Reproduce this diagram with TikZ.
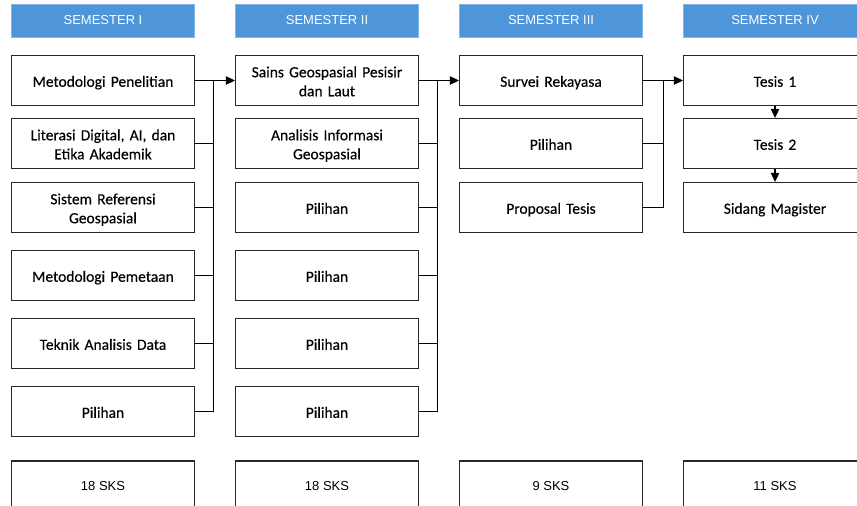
\documentclass[tikz,border=0pt]{standalone}
\usepackage{fontspec}
\setmainfont{Carlito}[RawFeature={embolden=0.35}]
\newfontfamily\labelfont{Liberation Sans}
\usetikzlibrary{arrows.meta}
\definecolor{hdblue}{RGB}{78,149,217}
\definecolor{edge}{RGB}{40,40,40}
\tikzset{
  course/.style={draw=edge, line width=1.3pt, minimum width=183pt, minimum height=50pt,
    inner sep=0pt, align=center, text width=176pt,
    execute at begin node={\noindent\rule{0pt}{16pt}},
    execute at end node={\rule[-3.5pt]{0pt}{0pt}},
    font=\fontsize{15.5}{19}\selectfont},
  header/.style={fill=hdblue, draw=hdblue!70!white, line width=0.6pt, minimum width=183pt,
    minimum height=33pt, inner sep=0pt, text=white, font=\labelfont\fontsize{13}{15}\selectfont},
  credit/.style={draw=edge, line width=1.3pt, minimum width=183pt, minimum height=50pt,
    inner sep=0pt, font=\labelfont\fontsize{13}{15}\selectfont},
  link/.style={draw=black, line width=1.3pt},
  flow/.style={link, -{Triangle[length=9pt,width=8.5pt]}},
}
\begin{document}
\begin{tikzpicture}[x=1pt,y=-1pt]
\useasboundingbox (0,0) rectangle (857,506);
\clip (0,0) rectangle (857,506);

% semester headers
\node[header] (h1) at (103,20.5) {SEMESTER I};
\node[header] (h2) at (327,20.5) {SEMESTER II};
\node[header] (h3) at (551,20.5) {SEMESTER III};
\node[header] (h4) at (775,20.5) {SEMESTER IV};

% semester I
\node[course] (a1) at (103,80.5) {Metodologi Penelitian};
\node[course] (a2) at (103,143.5) {Literasi Digital, AI, dan\\Etika Akademik};
\node[course] (a3) at (103,207.5) {Sistem Referensi\\Geospasial};
\node[course] (a4) at (103,275.5) {Metodologi Pemetaan};
\node[course] (a5) at (103,343.5) {Teknik Analisis Data};
\node[course] (a6) at (103,411.5) {Pilihan};

% semester II
\node[course] (b1) at (327,80.5) {Sains Geospasial Pesisir\\dan Laut};
\node[course] (b2) at (327,143.5) {Analisis Informasi\\Geospasial};
\node[course] (b3) at (327,207.5) {Pilihan};
\node[course] (b4) at (327,275.5) {Pilihan};
\node[course] (b5) at (327,343.5) {Pilihan};
\node[course] (b6) at (327,411.5) {Pilihan};

% semester III
\node[course] (c1) at (551,80.5) {Survei Rekayasa};
\node[course] (c2) at (551,143.5) {Pilihan};
\node[course] (c3) at (551,207.5) {Proposal Tesis};

% semester IV
\node[course] (d1) at (775,80.5) {Tesis 1};
\node[course] (d2) at (775,143.5) {Tesis 2};
\node[course] (d3) at (775,207.5) {Sidang Magister};

% credit totals
\node[credit] (s1) at (103,486) {18 SKS};
\node[credit] (s2) at (327,486) {18 SKS};
\node[credit] (s3) at (551,486) {9 SKS};
\node[credit] (s4) at (775,486) {11 SKS};

% junction points of the collecting lines
\coordinate (j1) at (213.5,80.5);
\coordinate (j2) at (437.5,80.5);
\coordinate (j3) at (663.5,80.5);

% semester I -> II
\draw[link] (a6.east) -| (j1);
\foreach \n in {a2,a3,a4,a5} \draw[link] (\n.east) -- (\n.east -| j1);
\draw[flow] (a1.east) -- (b1.west);

% semester II -> III
\draw[link] (b6.east) -| (j2);
\foreach \n in {b2,b3,b4,b5} \draw[link] (\n.east) -- (\n.east -| j2);
\draw[flow] (b1.east) -- (c1.west);

% semester III -> IV
\draw[link] (c3.east) -| (j3);
\draw[link] (c2.east) -- (c2.east -| j3);
\draw[flow] (c1.east) -- (d1.west);

% thesis sequence
\draw[flow] (d1.south) -- (d2.north);
\draw[flow] (d2.south) -- (d3.north);
\end{tikzpicture}
\end{document}
